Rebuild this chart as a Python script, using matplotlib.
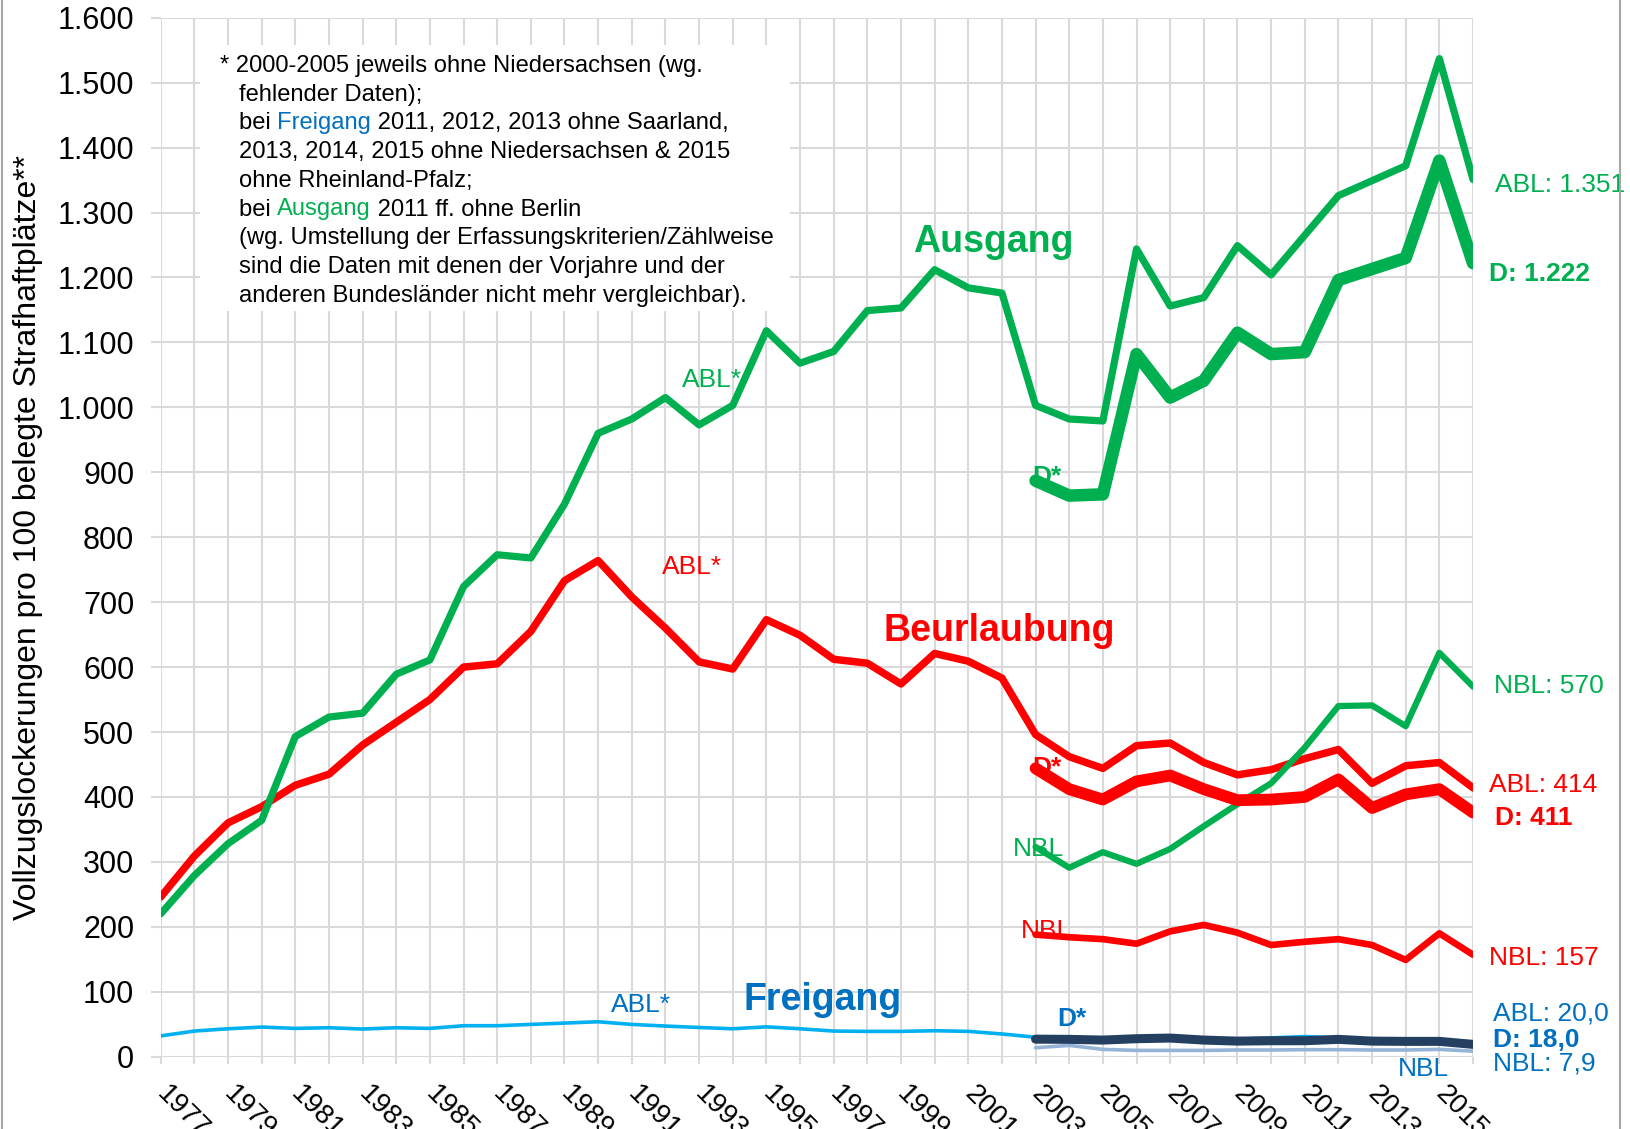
import matplotlib
matplotlib.use("Agg")
import matplotlib.pyplot as plt
from matplotlib.ticker import FuncFormatter
from matplotlib.patches import Rectangle
from matplotlib.lines import Line2D

plt.rcParams['font.family'] = ['Liberation Sans', 'DejaVu Sans']

# ---------------- data ----------------
years = list(range(1977, 2017))
years_recent = list(range(2003, 2017))
tick_labels = [str(y) if (y - 1977) % 2 == 0 else '' for y in years]

ausgang_abl = [220, 279, 328, 364, 493, 523, 529, 589, 611, 724,
               773, 768, 851, 960, 982, 1015, 973, 1003, 1118, 1068,
               1086, 1149, 1153, 1212, 1184, 1176, 1003, 982, 979, 1244,
               1156, 1169, 1249, 1204, 1265, 1326, 1349, 1372, 1537, 1351]
ausgang_d = [887, 864, 866, 1082, 1015, 1041, 1115, 1082, 1085, 1196,
             1213, 1230, 1380, 1222]
ausgang_nbl = [323, 291, 315, 297, 320, 355, 389, 421, 476, 540,
               541, 509, 622, 570]

beurl_abl = [246, 309, 360, 385, 418, 435, 480, 515, 550, 600,
             605, 655, 733, 764, 708, 660, 608, 597, 673, 649,
             612, 606, 574, 621, 609, 583, 496, 462, 444, 479,
             483, 453, 434, 442, 459, 473, 421, 448, 453, 414]
beurl_d = [444, 412, 396, 424, 433, 412, 395, 396, 400, 427,
           383, 404, 412, 376]
beurl_nbl = [188, 184, 181, 174, 193, 203, 191, 172, 177, 181,
             172, 149, 190, 157]

freig_abl = [32, 39.5, 43, 45.6, 43.6, 44.6, 42.6, 44.6, 43.6, 47.7,
             47.7, 49.7, 51.8, 53.8, 49.7, 47.2, 45, 43, 46, 43,
             39.5, 39, 39, 40, 39, 35, 30, 29, 28, 30,
             31, 28, 27, 29, 31, 29, 26, 25, 25, 20]
freig_d = [27, 26.7, 25.6, 27.7, 28.7, 25.6, 24, 24.6, 24.6, 26.7,
           24, 23.6, 23.6, 19]
freig_nbl = [13.8, 17.4, 11.3, 9.7, 9.7, 9.7, 10.3, 10.3, 10.8, 10.8,
             10.3, 10.3, 11.3, 8.5]

GREEN = '#00B050'
RED = '#FF0000'
LBLUE = '#00B0F0'
NAVY = '#243F60'
NBLBLUE = '#95B3D7'
TBLUE = '#0070C0'
GRID = '#D9D9D9'

W, H = 1630, 1129
fig = plt.figure(figsize=(W / 100, H / 100), dpi=100)
ax = fig.add_axes([160.7 / W, 1 - 1056.7 / H, (1473 - 160.7) / W, (1056.7 - 17.7) / H])


def P(x, y):
    return (x / W, 1 - y / H)


# ---------------- lines ----------------
kw = dict(solid_joinstyle='round', solid_capstyle='round')
ax.plot(years, freig_abl, color=LBLUE, lw=2.6, zorder=3, **kw)
ax.plot(years_recent, freig_nbl, color=NBLBLUE, lw=2.6, zorder=3, **kw)
ax.plot(years_recent, freig_d, color=NAVY, lw=6.5, zorder=4, **kw)

ax.plot(years, beurl_abl, color=RED, lw=5.4, zorder=3, **kw)
ax.plot(years_recent, beurl_nbl, color=RED, lw=4.8, zorder=3, **kw)
ax.plot(years_recent, beurl_d, color=RED, lw=8.5, zorder=4, **kw)

ax.plot(years, ausgang_abl, color=GREEN, lw=5.2, zorder=3, **kw)
ax.plot(years_recent, ausgang_nbl, color=GREEN, lw=4.5, zorder=3, **kw)
ax.plot(years_recent, ausgang_d, color=GREEN, lw=9.0, zorder=4, **kw)

# ---------------- axes ----------------
ax.set_xlim(1977, 2016)
ax.set_ylim(0, 1600)
ax.set_xticks(years)
ax.set_xticklabels(tick_labels, rotation=-45, ha='left', va='center',
                   rotation_mode='anchor', fontsize=20)
ax.set_yticks(range(0, 1601, 100))
ax.yaxis.set_major_formatter(FuncFormatter(lambda v, p: f"{int(v):,}".replace(',', '.')))
ax.tick_params(axis='y', labelsize=22, length=7, width=1.5, color=GRID, pad=12)
ax.tick_params(axis='x', length=5, width=1.5, color=GRID, pad=19)
ax.grid(True, color=GRID, lw=1.5)
ax.set_axisbelow(True)
for s in ax.spines.values():
    s.set_visible(False)

fig.text(28 / W, 1 - 538 / H, 'Vollzugslockerungen pro 100 belegte Strafhaftplätze**',
         rotation=90, ha='center', va='center', fontsize=23)

# ---------------- footnote box ----------------
ax.add_patch(Rectangle(P(200, 311), (790 - 200) / W, (311 - 45) / H,
                       transform=fig.transFigure, facecolor='white',
                       edgecolor='none', zorder=1.5))

foot_fs = 17.1
foot_lines = [
    [('* 2000-2005 jeweils ohne Niedersachsen (wg.', 'black')],
    [('fehlender Daten);', 'black')],
    [('bei ', 'black'), ('Freigang', TBLUE), (' 2011, 2012, 2013 ohne Saarland,', 'black')],
    [('2013, 2014, 2015 ohne Niedersachsen & 2015', 'black')],
    [('ohne Rheinland-Pfalz;', 'black')],
    [('bei ', 'black'), ('Ausgang', GREEN), (' 2011 ff. ohne Berlin', 'black')],
    [('(wg. Umstellung der Erfassungskriterien/Zählweise', 'black')],
    [('sind die Daten mit denen der Vorjahre und der', 'black')],
    [('anderen Bundesländer nicht mehr vergleichbar).', 'black')],
]
for i, segs in enumerate(foot_lines):
    x0 = 220 if i == 0 else 239
    y0 = 66 + i * 28.7
    prev = None
    for txt, col in segs:
        if prev is None:
            prev = ax.text(*P(x0, y0), txt, transform=fig.transFigure, color=col,
                           fontsize=foot_fs, ha='left', va='center', zorder=6)
        else:
            prev = ax.annotate(txt, xy=(1, 0), xycoords=prev, color=col,
                               fontsize=foot_fs, ha='left', va='bottom', zorder=6)

# ---------------- labels ----------------
def lab(x, y, s, color, fs=19, bold=False, z=5):
    ax.text(*P(x, y), s, transform=fig.transFigure, color=color, fontsize=fs,
            fontweight='bold' if bold else 'normal', ha='left', va='center',
            zorder=z, clip_on=False)


lab(913, 242, 'Ausgang', GREEN, 27, True)
lab(884, 631, 'Beurlaubung', RED, 27, True)
lab(743, 1000, 'Freigang', TBLUE, 27, True)

lab(682, 380, 'ABL*', GREEN)
lab(662, 567, 'ABL*', RED)
lab(611, 1005, 'ABL*', TBLUE)
lab(1032, 477, 'D*', GREEN, 19, True, 3.5)
lab(1032, 768, 'D*', RED, 19, True, 3.5)
lab(1057, 1019, 'D*', TBLUE, 19, True)
lab(1013, 849, 'NBL', GREEN, 19, False, 2.5)
lab(1021, 931, 'NBL', RED, 19, False, 2.5)
lab(1398, 1069, 'NBL', TBLUE)

lab(1495, 185, 'ABL: 1.351', GREEN)
lab(1489, 274, 'D: 1.222', GREEN, 19, True)
lab(1494, 686, 'NBL: 570', GREEN)
lab(1489, 785, 'ABL: 414', RED)
lab(1495, 818, 'D: 411', RED, 19, True)
lab(1489, 958, 'NBL: 157', RED)
lab(1493, 1013, 'ABL: 20,0', TBLUE)
lab(1493, 1040, 'D: 18,0', TBLUE, 19, True)
lab(1493, 1064, 'NBL: 7,9', TBLUE)

# chart-area border fragments
fig.add_artist(Line2D([1.5 / W, 1.5 / W], [0, 1], color='#A6A6A6', lw=1.5,
                      transform=fig.transFigure))
fig.add_artist(Line2D([1620 / W, 1620 / W], [0, 1], color='#A6A6A6', lw=1.5,
                      transform=fig.transFigure))

fig.savefig('out.png', dpi=100)
